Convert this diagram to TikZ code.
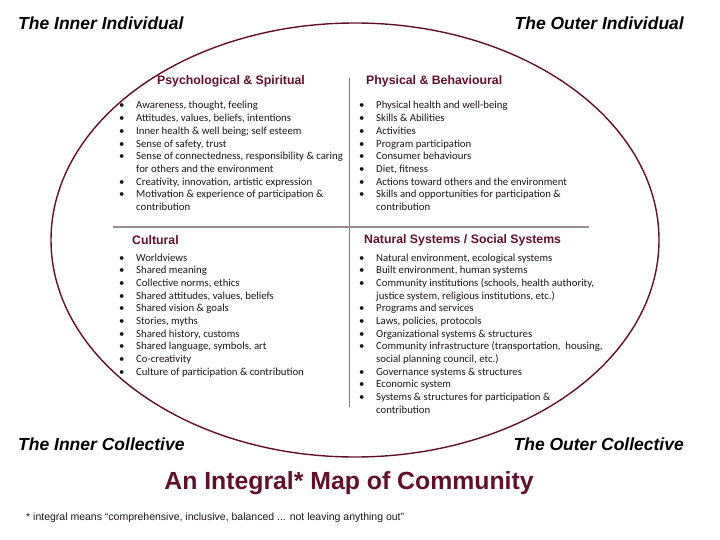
\documentclass[tikz,border=0pt]{standalone}
\usepackage{fontspec}
\setmainfont{Liberation Sans}
\newfontfamily\listfont{Carlito}
\usetikzlibrary{positioning}
\definecolor{maroon}{RGB}{98,16,42}
\definecolor{rulegray}{RGB}{150,142,146}
\definecolor{ink}{RGB}{28,22,24}

% bullet cell of a quadrant list
\newcommand{\bl}{\textbullet}

\tikzset{
  corner/.style={font=\fontsize{17.5}{20}\selectfont\bfseries\itshape, inner sep=0pt},
  heading/.style={font=\fontsize{12.3}{14}\selectfont\bfseries, text=maroon, inner sep=0pt, anchor=west},
  items/.style={font=\listfont\fontsize{10.75}{12.7}\selectfont, text=ink, inner sep=0pt, anchor=base west},
}

\begin{document}
\begin{tikzpicture}[x=1pt, y=-1pt]

\fill[white] (0,0) rectangle (720,540);
\useasboundingbox (0,0) rectangle (720,540);

%---------------------------------------
% Ellipse and the four quadrants
%---------------------------------------
\coordinate (mid) at (355,240);
\draw[maroon, line width=1.4pt] (mid) ellipse [x radius=304pt, y radius=217pt];

\coordinate (vtop) at (349,78);
\coordinate (vbot) at (349,407);
\coordinate (hleft) at (113,227);
\coordinate (hright) at (589,227);
\draw[rulegray!85!black, line width=0.8pt] (vtop) -- (vbot);
\draw[rulegray, line width=1.8pt] (hleft) -- (hright);

%---------------------------------------
% Corner labels
%---------------------------------------
\node[corner, anchor=west] (inInd) at (18,23) {The Inner Individual};
\node[corner, anchor=east] (outInd) at (684,23) {The Outer Individual};
\node[corner, anchor=west] (inCol) at (18,444) {The Inner Collective};
\node[corner, anchor=east] (outCol) at (684,444) {The Outer Collective};

%---------------------------------------
% Upper left: Psychological & Spiritual
%---------------------------------------
\node[heading] (psyHead) at (157,81) {Psychological \& Spiritual};
\node[items] (psyList) at (119,109) {\begin{tabular}[t]{@{}p{17pt}@{}l@{}}
  \bl & Awareness, thought, feeling\\
  \bl & Attitudes, values, beliefs, intentions\\
  \bl & Inner health \& well being; self esteem\\
  \bl & Sense of safety, trust\\
  \bl & Sense of connectedness, responsibility \& caring\\
      & for others and the environment\\
  \bl & Creativity, innovation, artistic expression\\
  \bl & Motivation \& experience of participation \&\\
      & contribution
\end{tabular}};

%---------------------------------------
% Upper right: Physical & Behavioural
%---------------------------------------
\node[heading] (phyHead) at (366,81) {Physical \& Behavioural};
\node[items] (phyList) at (359,109) {\begin{tabular}[t]{@{}p{17pt}@{}l@{}}
  \bl & Physical health and well-being\\
  \bl & Skills \& Abilities\\
  \bl & Activities\\
  \bl & Program participation\\
  \bl & Consumer behaviours\\
  \bl & Diet, fitness\\
  \bl & Actions toward others and the environment\\
  \bl & Skills and opportunities for participation \&\\
      & contribution
\end{tabular}};

%---------------------------------------
% Lower left: Cultural
%---------------------------------------
\node[heading] (culHead) at (132,240) {Cultural};
\node[items] (culList) at (119,261) {\begin{tabular}[t]{@{}p{17pt}@{}l@{}}
  \bl & Worldviews\\
  \bl & Shared meaning\\
  \bl & Collective norms, ethics\\
  \bl & Shared attitudes, values, beliefs\\
  \bl & Shared vision \& goals\\
  \bl & Stories, myths\\
  \bl & Shared history, customs\\
  \bl & Shared language, symbols, art\\
  \bl & Co-creativity\\
  \bl & Culture of participation \& contribution
\end{tabular}};

%---------------------------------------
% Lower right: Natural Systems / Social Systems
%---------------------------------------
\node[heading] (natHead) at (364,240) {Natural Systems / Social Systems};
\node[items] (natList) at (359,261) {\begin{tabular}[t]{@{}p{17pt}@{}l@{}}
  \bl & Natural environment, ecological systems\\
  \bl & Built environment, human systems\\
  \bl & Community institutions (schools, health authority,\\
      & justice system, religious institutions, etc.)\\
  \bl & Programs and services\\
  \bl & Laws, policies, protocols\\
  \bl & Organizational systems \& structures\\
  \bl & Community infrastructure (transportation,\ \ housing,\\
      & social planning council, etc.)\\
  \bl & Governance systems \& structures\\
  \bl & Economic system\\
  \bl & Systems \& structures for participation \&\\
      & contribution
\end{tabular}};

%---------------------------------------
% Title and footnote
%---------------------------------------
\node[font=\fontsize{24.8}{28}\selectfont\bfseries, text=maroon, inner sep=0pt] (title) at (349,483)
  {An Integral* Map of Community};
\node[font=\fontsize{10.5}{12}\selectfont, text=ink, inner sep=0pt, anchor=west] (note) at (26,518)
  {* integral means “comprehensive, inclusive, balanced ... not leaving anything out”};

\end{tikzpicture}
\end{document}
